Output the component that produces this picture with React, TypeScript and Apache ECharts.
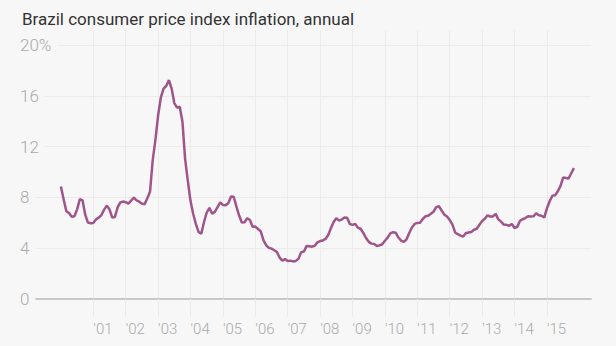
import React, { useEffect, useRef } from "react";
import * as echarts from "echarts";

// Monthly annual CPI inflation (%), Jan 2000 – Nov 2015
const startYear = 2000;
const y2000 = [8.85, 7.86, 6.92, 6.77, 6.47, 6.51, 7.06, 7.86, 7.77, 6.64, 6.02, 5.97];
const y2001 = [5.98, 6.27, 6.41, 6.61, 7.04, 7.35, 7.06, 6.41, 6.46, 7.21, 7.61, 7.67];
const y2002 = [7.62, 7.51, 7.75, 7.98, 7.77, 7.66, 7.51, 7.46, 7.93, 8.45, 10.93, 12.53];
const y2003 = [14.47, 15.85, 16.57, 16.77, 17.24, 16.57, 15.43, 15.07, 15.14, 13.98, 11.02, 9.3];
const y2004 = [7.71, 6.69, 5.89, 5.26, 5.15, 6.06, 6.81, 7.18, 6.71, 6.86, 7.24, 7.6];
const y2005 = [7.41, 7.39, 7.54, 8.07, 8.05, 7.27, 6.57, 6.02, 6.04, 6.36, 6.22, 5.69];
const y2006 = [5.7, 5.51, 5.32, 4.63, 4.23, 4.03, 3.97, 3.84, 3.7, 3.26, 3.02, 3.14];
const y2007 = [2.99, 3.02, 2.96, 3.0, 3.18, 3.69, 3.74, 4.18, 4.15, 4.12, 4.19, 4.46];
const y2008 = [4.56, 4.61, 4.73, 5.04, 5.58, 6.06, 6.37, 6.17, 6.25, 6.41, 6.39, 5.9];
const y2009 = [5.84, 5.9, 5.61, 5.53, 5.2, 4.8, 4.5, 4.36, 4.34, 4.17, 4.22, 4.31];
const y2010 = [4.59, 4.83, 5.17, 5.26, 5.22, 4.84, 4.6, 4.49, 4.7, 5.2, 5.63, 5.91];
const y2011 = [5.99, 6.01, 6.3, 6.51, 6.55, 6.71, 6.87, 7.23, 7.31, 6.97, 6.64, 6.5];
const y2012 = [6.22, 5.85, 5.24, 5.1, 4.99, 4.92, 5.2, 5.24, 5.28, 5.45, 5.53, 5.84];
const y2013 = [6.15, 6.31, 6.59, 6.49, 6.5, 6.7, 6.27, 6.09, 5.86, 5.84, 5.77, 5.91];
const y2014 = [5.59, 5.68, 6.15, 6.28, 6.37, 6.52, 6.5, 6.51, 6.75, 6.59, 6.56, 6.41];
const y2015 = [7.14, 7.7, 8.13, 8.17, 8.47, 8.89, 9.56, 9.53, 9.49, 9.9, 10.3];

const yearTicks = [2001, 2002, 2003, 2004, 2005, 2006, 2007, 2008, 2009, 2010, 2011, 2012, 2013, 2014, 2015];
const valueTicks = [0, 4, 8, 12, 16, 20];

const title = "Brazil consumer price index inflation, annual";

export default function App() {
  const ref = useRef<HTMLDivElement>(null);

  useEffect(() => {
    document.body.style.margin = "0";
    if (!ref.current) return;
    const chart = echarts.init(ref.current, undefined, { renderer: "svg" });
    const all = [
      y2000, y2001, y2002, y2003, y2004, y2005, y2006, y2007,
      y2008, y2009, y2010, y2011, y2012, y2013, y2014, y2015,
    ].flat();
    const data = all.map((v, i) => [startYear + i / 12, v]);

    const grid = "#ebebeb";
    chart.setOption({
      animation: false,
      backgroundColor: "#f7f7f7",
      title: {
        text: title,
        left: 17,
        top: 5,
        textStyle: {
          fontFamily: "Roboto",
          fontSize: 17,
          fontWeight: 400,
          color: "#333",
        },
      },
      grid: { left: 35, right: 25, top: 30, bottom: 47 },
      xAxis: {
        type: "value",
        min: 1999.2,
        max: 2016.36,
        axisLine: { show: true, lineStyle: { color: "#c8c8c8", width: 2 } },
        axisTick: {
          show: true,
          customValues: yearTicks,
          length: 18,
          lineStyle: { color: grid, width: 1 },
        },
        splitLine: { show: true, lineStyle: { color: grid, width: 1 } },
        axisLabel: {
          customValues: yearTicks,
          formatter: (v: number) => "'" + String(Math.round(v)).slice(2),
          align: "left",
          margin: 22,
          color: "#aaa",
          fontFamily: "Roboto",
          fontWeight: 300,
          fontSize: 15,
        },
      },
      yAxis: {
        type: "value",
        min: 0,
        max: 21.18,
        axisLine: { show: false },
        axisTick: { show: false, customValues: valueTicks },
        splitLine: { show: true, lineStyle: { color: grid, width: 1 } },
        axisLabel: {
          customValues: valueTicks,
          formatter: (v: number) => (v === 20 ? "20%" : String(v)),
          align: "left",
          margin: 15,
          color: "#aaa",
          fontFamily: "Roboto",
          fontWeight: 300,
          fontSize: 17,
          backgroundColor: "#f7f7f7",
          padding: [0, 6, 0, 0],
        },
      },
      series: [
        {
          type: "line",
          data,
          showSymbol: false,
          symbol: "none",
          lineStyle: { color: "#a0558a", width: 2.5 },
          z: 5,
        },
      ],
    });
    return () => chart.dispose();
  }, []);

  return <div ref={ref} style={{ width: 616, height: 346 }} />;
}
